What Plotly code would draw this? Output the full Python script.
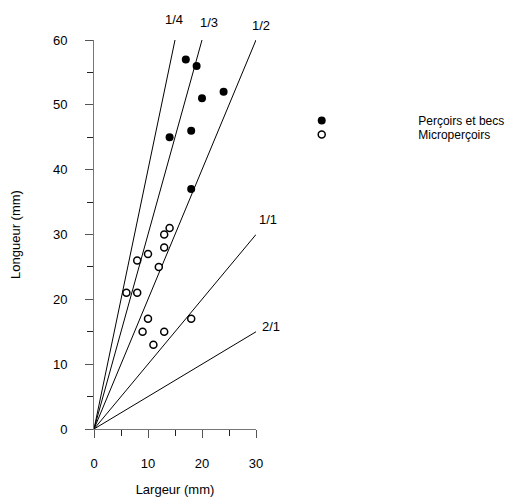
import plotly.graph_objects as go

# Perçoirs et becs (filled)
pb_largeur = [17, 19, 24, 20, 18, 14, 18]
pb_longueur = [57, 56, 52, 51, 46, 45, 37]

# Microperçoirs (open)
mp_largeur = [14, 13, 13, 10, 8, 12, 6, 8, 10, 18, 9, 13, 11]
mp_longueur = [31, 30, 28, 27, 26, 25, 21, 21, 17, 17, 15, 15, 13]

# Reference ratio lines (largeur/longueur), end points
ratio_labels = ["1/4", "1/3", "1/2", "1/1", "2/1"]
ratio_end_x = [15, 20, 30, 30, 30]
ratio_end_y = [60, 60, 60, 30, 15]
label_x = [14.9, 21.3, 30.9, 32.2, 32.8]
label_y = [63.2, 62.7, 62.2, 32.3, 15.8]

X_RANGE = [0, 30]
Y_RANGE = [0, 60]
FONT = "Liberation Sans, Arial, sans-serif"

fig = go.Figure()
for lx, ly in zip(ratio_end_x, ratio_end_y):
    fig.add_trace(go.Scatter(x=[0, lx], y=[0, ly], mode="lines",
                             line=dict(color="black", width=1),
                             showlegend=False, hoverinfo="skip", cliponaxis=False))

fig.add_trace(go.Scatter(x=pb_largeur, y=pb_longueur, mode="markers",
                         name="Perçoirs et becs", legend="legend",
                         marker=dict(symbol="circle", size=8, color="black"),
                         cliponaxis=False))
fig.add_trace(go.Scatter(x=mp_largeur, y=mp_longueur, mode="markers",
                         name="Microperçoirs", legend="legend2",
                         marker=dict(symbol="circle", size=7, color="white",
                                     line=dict(color="black", width=1.5)),
                         cliponaxis=False))

for t, x, y in zip(ratio_labels, label_x, label_y):
    fig.add_annotation(xref="paper", yref="paper",
                       x=(x - X_RANGE[0]) / (X_RANGE[1] - X_RANGE[0]),
                       y=(y - Y_RANGE[0]) / (Y_RANGE[1] - Y_RANGE[0]),
                       text=t, showarrow=False,
                       font=dict(size=13, color="black", family=FONT),
                       xanchor="center", yanchor="middle")

axis_common = dict(showline=True, linecolor="#777", linewidth=1, showgrid=False,
                   zeroline=False, ticks="outside", ticklen=8, tickwidth=1,
                   tickcolor="#555", tickfont=dict(size=13, color="black", family=FONT),
                   minor=dict(ticks="outside", ticklen=6, tickcolor="#222", dtick=5))

fig.update_xaxes(range=X_RANGE, dtick=10, tick0=0, ticklabelstandoff=14,
                 title=dict(text="Largeur (mm)", font=dict(size=13, family=FONT, color="black"), standoff=15),
                 **axis_common)
fig.update_yaxes(range=Y_RANGE, dtick=10, tick0=0, ticklabelstandoff=15,
                 title=dict(text="Longueur (mm)", font=dict(size=13, family=FONT, color="black"), standoff=35),
                 **axis_common)

legend_common = dict(xanchor="left", yanchor="middle", itemwidth=183,
                     font=dict(size=12, family=FONT, color="black"),
                     bgcolor="rgba(0,0,0,0)", borderwidth=0)

fig.update_layout(
    width=508, height=489,
    margin=dict(l=86, r=260, t=32, b=68, autoexpand=False),
    plot_bgcolor="white", paper_bgcolor="white",
    font=dict(family=FONT, size=13, color="black"),
    legend=dict(x=0.81, y=0.7931, **legend_common),
    legend2=dict(x=0.81, y=0.7571, **legend_common),
)

fig.write_html("out.html")
